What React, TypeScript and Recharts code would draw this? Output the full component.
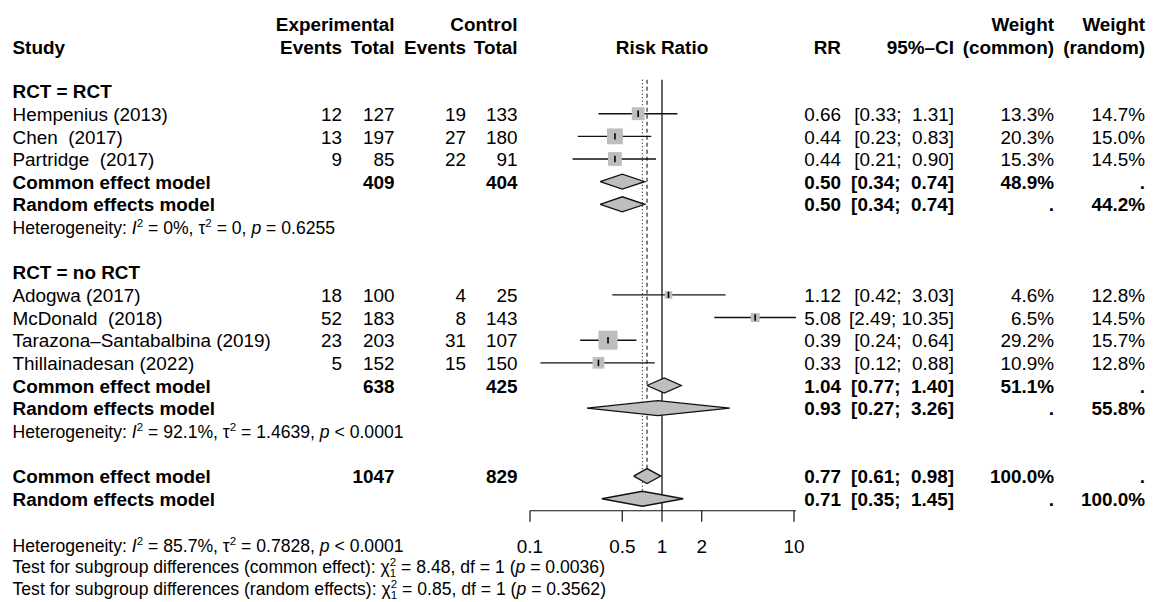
import React from 'react';
import { ComposedChart, Scatter, XAxis, YAxis, ErrorBar, ReferenceLine } from 'recharts';

if (typeof document !== 'undefined') document.body.style.margin = '0';

// study level data
const studyNames = [
  'Hempenius (2013)',
  'Chen  (2017)',
  'Partridge  (2017)',
  'Adogwa (2017)',
  'McDonald  (2018)',
  'Tarazona–Santabalbina (2019)',
  'Thillainadesan (2022)',
];
const studyGroup = [0, 0, 0, 1, 1, 1, 1];
const expEvents = [12, 13, 9, 18, 52, 23, 5];
const expTotal = [127, 197, 85, 100, 183, 203, 152];
const ctrlEvents = [19, 27, 22, 4, 8, 31, 15];
const ctrlTotal = [133, 180, 91, 25, 143, 107, 150];
const studyRR = [0.66, 0.44, 0.44, 1.12, 5.08, 0.39, 0.33];
const studyLower = [0.33, 0.23, 0.21, 0.42, 2.49, 0.24, 0.12];
const studyUpper = [1.31, 0.83, 0.9, 3.03, 10.35, 0.64, 0.88];
const weightCommon = [13.3, 20.3, 15.3, 4.6, 6.5, 29.2, 10.9];
const weightRandom = [14.7, 15.0, 14.5, 12.8, 14.5, 15.7, 12.8];

// subgroups and pooled estimates (group 1 common/random, group 2 common/random, overall common/random)
const groupLabels = ['RCT = RCT', 'RCT = no RCT'];
const modelNames = ['Common effect model', 'Random effects model'];
const pooledRR = [0.5, 0.5, 1.04, 0.93, 0.77, 0.71];
const pooledLower = [0.34, 0.34, 0.77, 0.27, 0.61, 0.35];
const pooledUpper = [0.74, 0.74, 1.4, 3.26, 0.98, 1.45];
const pooledWCommon = [48.9, null, 51.1, null, 100.0, null];
const pooledWRandom = [null, 44.2, null, 55.8, null, 100.0];
const pooledExpTotal = [409, null, 638, null, 1047, null];
const pooledCtrlTotal = [404, null, 425, null, 829, null];

// heterogeneity (group 1, group 2, overall)
const hetI2 = ['0%', '92.1%', '85.7%'];
const hetTau2 = ['0', '1.4639', '0.7828'];
const hetP = [' = 0.6255', ' < 0.0001', ' < 0.0001'];
const testNames = ['common effect', 'random effects'];
const testChi2 = ['8.48', '0.85'];
const testDf = [1, 1];
const testP = ['0.0036', '0.3562'];

const xTicks = [0.1, 0.5, 1, 2, 10];

const FONT = '"Liberation Sans", Arial, Helvetica, sans-serif';
const FS = 18.9;
const FS_SMALL = 17.6;
const FS_SCRIPT = 11.5;
const ROW_PX = 22.65;
const HALF = 7.5 / ROW_PX; // diamond half height in rows
const Y_MIN = -5;
const Y_MAX = 17.53;

const COL = { study: 12.5, expEv: 342, expTot: 394.5, ctlEv: 466, ctlTot: 517.5, rr: 841, ci: 954, wc: 1054, wr: 1145 };

const fmtCI = (lo: number, up: number) => `[${lo.toFixed(2)}; ${up.toFixed(2).padStart(5, ' ')}]`;
const fmtW = (w: number | null) => (w == null ? '.' : `${w.toFixed(1)}%`);

// row layout
const rows: any[] = [
  { kind: 'head1', x: 1, y: -3.95 },
  { kind: 'head2', x: 1, y: -2.95 },
];
let r = -1;
groupLabels.forEach((_, g) => {
  rows.push({ kind: 'group', g, x: 1, y: r });
  r++;
  studyNames.forEach((__, i) => {
    if (studyGroup[i] === g) {
      rows.push({ kind: 'study', i, x: 1, y: r });
      r++;
    }
  });
  rows.push({ kind: 'pooled', p: g * 2, x: 1, y: r });
  rows.push({ kind: 'pooled', p: g * 2 + 1, x: 1, y: r + 1 });
  rows.push({ kind: 'het', h: g, x: 1, y: r + 2 });
  r += 4;
});
rows.push({ kind: 'pooled', p: 4, x: 1, y: r });
rows.push({ kind: 'pooled', p: 5, x: 1, y: r + 1 });

const studyPoints = rows
  .filter((row) => row.kind === 'study')
  .map((row) => ({
    x: studyRR[row.i],
    y: row.y,
    err: [studyRR[row.i] - studyLower[row.i], studyUpper[row.i] - studyRR[row.i]],
    w: weightCommon[row.i],
  }));

const diamonds = rows
  .filter((row) => row.kind === 'pooled')
  .map((row) => [
    { x: pooledLower[row.p], y: row.y },
    { x: pooledRR[row.p], y: row.y - HALF },
    { x: pooledUpper[row.p], y: row.y },
    { x: pooledRR[row.p], y: row.y + HALF },
    { x: pooledLower[row.p], y: row.y },
  ]);

const overallCommonRow = rows.find((row) => row.kind === 'pooled' && row.p === 4).y;
const overallRandomRow = rows.find((row) => row.kind === 'pooled' && row.p === 5).y;

function T({ x, y, anchor = 'end', bold = false, size = FS, children }: any) {
  return (
    <text
      x={x}
      y={y}
      textAnchor={anchor}
      fontWeight={bold ? 'bold' : 'normal'}
      fontSize={size}
      fontFamily={FONT}
      fill="#000"
      style={{ whiteSpace: 'pre' }}
    >
      {children}
    </text>
  );
}

function HetLine({ x, y, h }: any) {
  return (
    <text x={x} y={y} fontSize={FS_SMALL} fontFamily={FONT} fill="#000" style={{ whiteSpace: 'pre' }}>
      {'Heterogeneity: '}
      <tspan fontStyle="italic">I</tspan>
      <tspan dy={-7} fontSize={FS_SCRIPT}>2</tspan>
      <tspan dy={7}>{` = ${hetI2[h]}, τ`}</tspan>
      <tspan dy={-7} fontSize={FS_SCRIPT}>2</tspan>
      <tspan dy={7}>{` = ${hetTau2[h]}, `}</tspan>
      <tspan fontStyle="italic">p</tspan>
      <tspan>{hetP[h]}</tspan>
    </text>
  );
}

function TestLine({ x, y, t }: any) {
  return (
    <text x={x} y={y} fontSize={FS_SMALL} fontFamily={FONT} fill="#000" style={{ whiteSpace: 'pre' }}>
      {`Test for subgroup differences (${testNames[t]}): χ`}
      <tspan dy={-6.5} fontSize={FS_SCRIPT}>2</tspan>
      <tspan dx={-6.4} dy={11} fontSize={FS_SCRIPT}>{String(testDf[t])}</tspan>
      <tspan dy={-4.5}>{` = ${testChi2[t]}, df = ${testDf[t]} (`}</tspan>
      <tspan fontStyle="italic">p</tspan>
      <tspan>{` = ${testP[t]})`}</tspan>
    </text>
  );
}

function TableRow(props: any) {
  const { cx, cy, payload } = props;
  const b = cy + 7.2;
  switch (payload.kind) {
    case 'head1':
      return (
        <g>
          <T x={COL.expTot} y={b} bold>Experimental</T>
          <T x={COL.ctlTot} y={b} bold>Control</T>
          <T x={COL.wc} y={b} bold>Weight</T>
          <T x={COL.wr} y={b} bold>Weight</T>
        </g>
      );
    case 'head2':
      return (
        <g>
          <T x={COL.study} y={b} anchor="start" bold>Study</T>
          <T x={COL.expEv} y={b} bold>Events</T>
          <T x={COL.expTot} y={b} bold>Total</T>
          <T x={COL.ctlEv} y={b} bold>Events</T>
          <T x={COL.ctlTot} y={b} bold>Total</T>
          <T x={cx} y={b} anchor="middle" bold>Risk Ratio</T>
          <T x={COL.rr} y={b} bold>RR</T>
          <T x={COL.ci} y={b} bold>95%–CI</T>
          <T x={COL.wc} y={b} bold>(common)</T>
          <T x={COL.wr} y={b} bold>(random)</T>
        </g>
      );
    case 'group':
      return <T x={COL.study} y={b} anchor="start" bold>{groupLabels[payload.g]}</T>;
    case 'study': {
      const i = payload.i;
      return (
        <g>
          <T x={COL.study} y={b} anchor="start">{studyNames[i]}</T>
          <T x={COL.expEv} y={b}>{String(expEvents[i])}</T>
          <T x={COL.expTot} y={b}>{String(expTotal[i])}</T>
          <T x={COL.ctlEv} y={b}>{String(ctrlEvents[i])}</T>
          <T x={COL.ctlTot} y={b}>{String(ctrlTotal[i])}</T>
          <T x={COL.rr} y={b}>{studyRR[i].toFixed(2)}</T>
          <T x={COL.ci} y={b}>{fmtCI(studyLower[i], studyUpper[i])}</T>
          <T x={COL.wc} y={b}>{fmtW(weightCommon[i])}</T>
          <T x={COL.wr} y={b}>{fmtW(weightRandom[i])}</T>
        </g>
      );
    }
    case 'pooled': {
      const p = payload.p;
      return (
        <g>
          <T x={COL.study} y={b} anchor="start" bold>{modelNames[p % 2]}</T>
          {pooledExpTotal[p] != null && <T x={COL.expTot} y={b} bold>{String(pooledExpTotal[p])}</T>}
          {pooledCtrlTotal[p] != null && <T x={COL.ctlTot} y={b} bold>{String(pooledCtrlTotal[p])}</T>}
          <T x={COL.rr} y={b} bold>{pooledRR[p].toFixed(2)}</T>
          <T x={COL.ci} y={b} bold>{fmtCI(pooledLower[p], pooledUpper[p])}</T>
          <T x={COL.wc} y={b} bold>{fmtW(pooledWCommon[p])}</T>
          <T x={COL.wr} y={b} bold>{fmtW(pooledWRandom[p])}</T>
        </g>
      );
    }
    case 'het':
      return <HetLine x={COL.study} y={cy + 7.5} h={payload.h} />;
    default:
      return <g />;
  }
}

function StudySquare(props: any) {
  const { cx, cy, payload } = props;
  const s = 3.52 * Math.sqrt(payload.w);
  return (
    <g>
      <rect x={cx - s / 2} y={cy - s / 2} width={s} height={s} fill="#bebebe" />
      <line x1={cx} x2={cx} y1={cy - 3.2} y2={cy + 3.2} stroke="#000" strokeWidth={1.6} />
    </g>
  );
}

const Empty = () => <g />;

function Footer(props: any) {
  const vb = props.viewBox || {};
  const y0 = vb.y != null ? vb.y : 510.75;
  return (
    <g>
      <HetLine x={COL.study} y={y0 + 41.2} h={2} />
      <TestLine x={COL.study} y={y0 + 62} t={0} />
      <TestLine x={COL.study} y={y0 + 84} t={1} />
    </g>
  );
}

export default function App() {
  return (
    <ComposedChart
      width={1163}
      height={602}
      margin={{ top: 0.45, right: 367.03, bottom: 1.25, left: 530 }}
      style={{ fontFamily: FONT }}
    >
      <XAxis
        type="number"
        dataKey="x"
        scale="log"
        domain={[0.1, 10.35]}
        ticks={xTicks}
        height={90}
        tickSize={11}
        tickMargin={17.5}
        tick={{ fill: '#000', fontSize: FS, fontFamily: FONT }}
        axisLine={{ stroke: '#111', strokeWidth: 1.2 }}
        tickLine={{ stroke: '#111', strokeWidth: 1.2 }}
        label={<Footer />}
      />
      <YAxis type="number" dataKey="y" domain={[Y_MIN, Y_MAX]} reversed hide />
      <ReferenceLine
        segment={[{ x: 1, y: -1.5 }, { x: 1, y: Y_MAX }]}
        stroke="#4a4a4a"
        strokeWidth={1.7}
        ifOverflow="visible"
      />
      <ReferenceLine
        segment={[{ x: pooledRR[4], y: -1.5 }, { x: pooledRR[4], y: overallCommonRow - HALF }]}
        stroke="#000"
        strokeWidth={1}
        strokeDasharray="4 3"
        ifOverflow="visible"
      />
      <ReferenceLine
        segment={[{ x: pooledRR[5], y: -1.5 }, { x: pooledRR[5], y: overallRandomRow - HALF }]}
        stroke="#000"
        strokeWidth={1}
        strokeDasharray="1 2.5"
        ifOverflow="visible"
      />
      <Scatter data={studyPoints} shape={StudySquare} isAnimationActive={false}>
        <ErrorBar dataKey="err" direction="x" width={0} stroke="#111" strokeWidth={1.4} />
      </Scatter>
      {diamonds.map((pts, k) => (
        <Scatter
          key={k}
          data={pts}
          shape={Empty}
          line={{ fill: '#bebebe', stroke: '#111', strokeWidth: 1.3 }}
          lineType="joint"
          isAnimationActive={false}
        />
      ))}
      <Scatter data={rows} shape={TableRow} isAnimationActive={false} />
    </ComposedChart>
  );
}
